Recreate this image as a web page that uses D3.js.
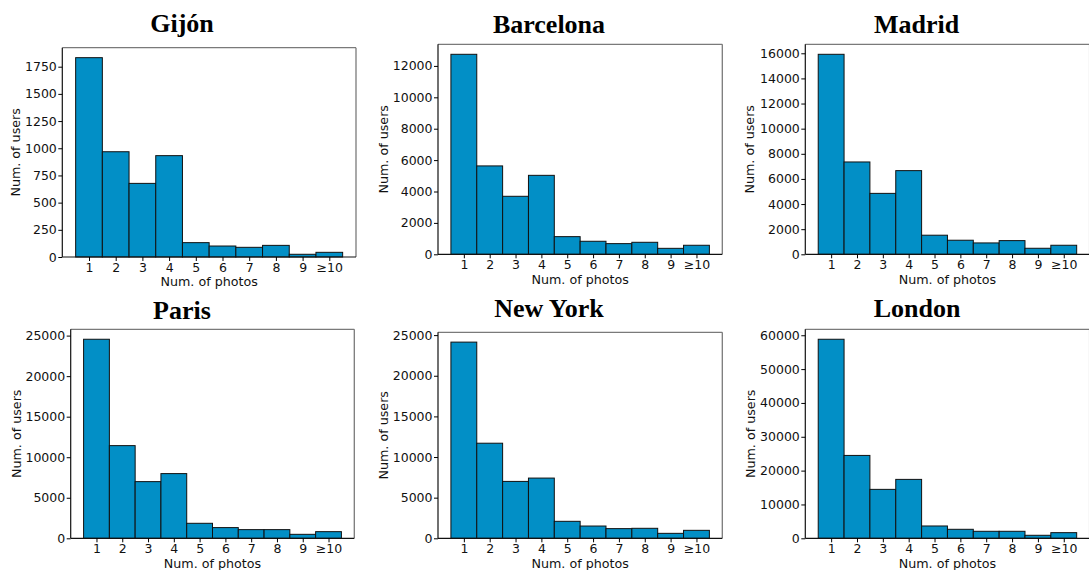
<!DOCTYPE html>
<html>
<head>
<meta charset="utf-8">
<script src="https://cdn.jsdelivr.net/npm/d3@7"></script>
<style>
  body { margin: 0; background: #fff; }
  svg { display: block; }
  .title { font-family: "Liberation Serif", "Times New Roman", serif; font-weight: bold; font-size: 26px; fill: #000; }
  .axis text { font-family: "DejaVu Sans", sans-serif; font-size: 12.5px; fill: #111; }
  .axis line { stroke: #000; }
  .axislabel { font-family: "DejaVu Sans", sans-serif; font-size: 12.7px; fill: #111; }
</style>
</head>
<body>
<svg width="1089" height="570"></svg>
<script>

// chart data
var cities = ["Gijón", "Barcelona", "Madrid", "Paris", "New York", "London"];
var binLabels = ["1", "2", "3", "4", "5", "6", "7", "8", "9", "≥10"];

var gijon     = [1833, 968, 677, 932, 132, 101, 89, 107, 25, 43];
var barcelona = [12740, 5630, 3695, 5030, 1125, 830, 680, 765, 380, 575];
var madrid    = [15920, 7350, 4850, 6660, 1520, 1120, 905, 1090, 480, 720];
var paris     = [24550, 11430, 6990, 7980, 1850, 1320, 1070, 1070, 490, 820];
var newYork   = [24140, 11700, 7000, 7410, 2090, 1510, 1190, 1230, 610, 980];
var london    = [58820, 24490, 14460, 17410, 3640, 2660, 2070, 2070, 890, 1670];

var tickSteps = [250, 2000, 2000, 5000, 5000, 10000];

var series = [gijon, barcelona, madrid, paris, newYork, london];

// where each small chart sits on the page
var panels = [
  {left: 62.3,  top: 47.7,  w: 293.7, h: 209.3, titleX: 182,   titleY: 32,    ylabX: 20},
  {left: 438,   top: 44.3,  w: 284.3, h: 210,   titleX: 549,   titleY: 33.3,  ylabX: 388},
  {left: 805.3, top: 44.3,  w: 284.3, h: 210,   titleX: 916.5, titleY: 33.3,  ylabX: 754},
  {left: 70.7,  top: 329.3, w: 283.6, h: 209,   titleX: 182,   titleY: 319.3, ylabX: 20.5},
  {left: 438,   top: 332.3, w: 284.3, h: 206,   titleX: 549,   titleY: 316.7, ylabX: 388},
  {left: 805.3, top: 329.3, w: 284.3, h: 209,   titleX: 917,   titleY: 316.7, ylabX: 755}
];

var barColour = "#028fc6";

function drawGraphic() {

  var svg = d3.select("svg");

  for (var j = 0; j < cities.length; j++) {

    var p = panels[j],
      values = series[j];

    var x = d3.scaleLinear()
      .domain([0, 11])
      .range([0, p.w]);

    var y = d3.scaleLinear()
      .domain([0, d3.max(values) * 1.05])
      .range([p.h, 0]);

    var g = svg.append("g")
      .attr("transform", "translate(" + p.left + "," + p.top + ")");

    // bars, one per bin, centred on 1..10
    g.selectAll("rect.bar")
      .data(values)
      .enter().append("rect")
      .attr("class", "bar")
      .attr("x", function(d, i) { return x(i + 0.5); })
      .attr("width", function(d, i) { return x(i + 1.5) - x(i + 0.5); })
      .attr("y", function(d) { return y(d); })
      .attr("height", function(d) { return p.h - y(d); })
      .attr("fill", barColour)
      .attr("stroke", "#111")
      .attr("stroke-width", 1);

    // frame
    g.append("line").attr("x1", 0).attr("x2", p.w).attr("y1", 0).attr("y2", 0)
      .attr("stroke", "#7a7a7a").attr("stroke-width", 1.3);
    g.append("line").attr("x1", p.w).attr("x2", p.w).attr("y1", 0).attr("y2", p.h)
      .attr("stroke", "#7a7a7a").attr("stroke-width", 1.3);
    g.append("line").attr("x1", 0).attr("x2", 0).attr("y1", 0).attr("y2", p.h)
      .attr("stroke", "#111").attr("stroke-width", 1.2);
    g.append("line").attr("x1", 0).attr("x2", p.w).attr("y1", p.h).attr("y2", p.h)
      .attr("stroke", "#111").attr("stroke-width", 1.2);

    var yticks = d3.range(0, y.domain()[1], tickSteps[j]);

    g.append("g")
      .attr("class", "axis axis--y")
      .call(d3.axisLeft(y)
        .tickValues(yticks)
        .tickFormat(d3.format("d"))
        .tickSize(4)
        .tickPadding(1.5))
      .call(function(a) { a.select(".domain").remove(); });

    g.append("g")
      .attr("class", "axis axis--x")
      .attr("transform", "translate(0," + p.h + ")")
      .call(d3.axisBottom(x)
        .tickValues(d3.range(1, 11))
        .tickFormat(function(d) { return binLabels[d - 1]; })
        .tickSize(4)
        .tickPadding(2))
      .call(function(a) { a.select(".domain").remove(); });

    // titles and axis labels
    svg.append("text")
      .attr("class", "title")
      .attr("x", p.titleX)
      .attr("y", p.titleY)
      .attr("text-anchor", "middle")
      .text(cities[j]);

    g.append("text")
      .attr("class", "axislabel")
      .attr("x", p.w / 2)
      .attr("y", p.h + 29.5)
      .attr("text-anchor", "middle")
      .text("Num. of photos");

    svg.append("text")
      .attr("class", "axislabel")
      .attr("transform", "translate(" + p.ylabX + "," + (p.top + p.h / 2) + ") rotate(-90)")
      .attr("text-anchor", "middle")
      .text("Num. of users");
  }
}

drawGraphic();
</script>
</body>
</html>
